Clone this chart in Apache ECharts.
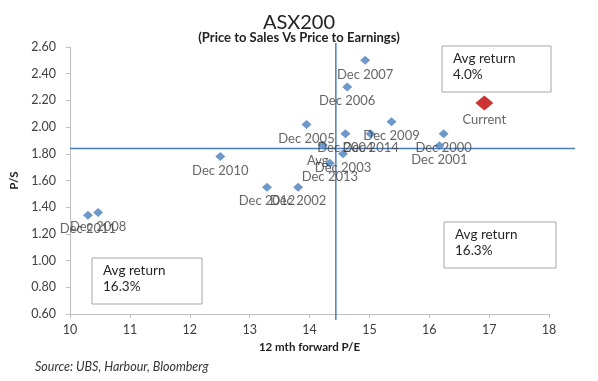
<!DOCTYPE html>
<html>
<head>
<meta charset="utf-8">
<script src="https://cdn.jsdelivr.net/npm/echarts@6/dist/echarts.min.js"></script>
<style>
html,body{margin:0;padding:0;background:#fff;}
#c{width:598px;height:381px;}
</style>
</head>
<body>
<div id="c"></div>
<script>
// ---- data ----
var names = ["Dec 2007","Dec 2006","Dec 2009","Dec 2005","Dec 2004","Dec 2014","Dec 2000","Dec 2001","Avg","Dec 2003","Dec 2013","Dec 2010","Dec 2012","Dec 2002","Dec 2011","Dec 2008"];
var pe    = [14.93, 14.63, 15.37, 13.95, 14.60, 15.02, 16.24, 16.17, 14.22, 14.56, 14.34, 12.51, 13.29, 13.81, 10.30, 10.47];
var ps    = [2.50,  2.30,  2.04,  2.02,  1.95,  1.95,  1.95,  1.86,  1.865, 1.80,  1.73,  1.78,  1.55,  1.55,  1.34,  1.36];
var currentName = "Current";
var currentPE = 16.92;
var currentPS = 2.18;
var avgPE = 14.44;   // vertical reference line
var avgPS = 1.84;    // horizontal reference line
var xTicks = [10, 18, 1];
var yTicks = [0.6, 2.6, 0.2];
var boxes = [
  {lines:["Avg return","4.0%"]},
  {lines:["Avg return","16.3%"]},
  {lines:["Avg return","16.3%"]}
];

var FONT = 'Lato, "Open Sans", sans-serif';
var chart = echarts.init(document.getElementById('c'), null, {renderer:'canvas'});

var pts = names.map(function(n,i){
  var d = {name:n, value:[pe[i], ps[i]]};
  if (n === 'Avg') d.label = {offset:[-5,2]};
  return d;
});

var option = {
  backgroundColor:'#fff',
  animation:false,
  textStyle:{fontFamily:FONT},
  title:[
    {text:'ASX200', left:'center', top:8, textStyle:{fontFamily:FONT, fontSize:20, fontWeight:'normal', color:'#222'}},
    {text:'(Price to Sales Vs Price to Earnings)', left:'center', top:26, textStyle:{fontFamily:FONT, fontSize:13, fontWeight:'bold', color:'#222'}}
  ],
  grid:{left:68, right:49, top:47, bottom:67, containLabel:false},
  xAxis:{
    type:'value', min:xTicks[0], max:xTicks[1], interval:xTicks[2],
    name:'12 mth forward P/E', nameLocation:'middle', nameGap:25,
    nameTextStyle:{fontFamily:FONT, fontSize:11.5, fontWeight:'bold', color:'#222'},
    axisLine:{show:true, lineStyle:{color:'#c0c0c0'}},
    axisTick:{show:true, length:4, lineStyle:{color:'#c0c0c0'}},
    axisLabel:{fontFamily:FONT, fontSize:12.5, color:'#404040', margin:9},
    splitLine:{show:false}
  },
  yAxis:{
    type:'value', min:yTicks[0], max:yTicks[1], interval:yTicks[2],
    name:'P/S', nameLocation:'middle', nameGap:50, nameRotate:90,
    nameTextStyle:{fontFamily:FONT, fontSize:11.5, fontWeight:'bold', color:'#222'},
    axisLine:{show:true, lineStyle:{color:'#c0c0c0'}},
    axisTick:{show:true, length:4, lineStyle:{color:'#c0c0c0'}},
    axisLabel:{fontFamily:FONT, fontSize:12.5, color:'#404040', margin:14,
      formatter:function(v){ return v.toFixed(2); }},
    splitLine:{show:false}
  },
  series:[
    {
      type:'scatter', symbol:'diamond', symbolSize:[10,9],
      itemStyle:{color:'#4a7ebb'},
      label:{show:true, position:'bottom', distance:3, formatter:'{b}',
        fontFamily:FONT, fontSize:13, color:'#404040'},
      data:pts, z:3
    },
    {
      type:'scatter', symbol:'diamond', symbolSize:[18,15],
      itemStyle:{color:'#c00000'},
      label:{show:true, position:'bottom', distance:3, formatter:'{b}',
        fontFamily:FONT, fontSize:13, color:'#404040'},
      data:[{name:currentName, value:[currentPE, currentPS]}], z:3
    }
  ]
};
chart.setOption(option);

// reference lines (extended slightly beyond plot as in the original), from the chart's own scales
var g = [];
var pL = chart.convertToPixel({gridIndex:0}, [xTicks[0], avgPS]);
var pR = chart.convertToPixel({gridIndex:0}, [xTicks[1], avgPS]);
var pT = chart.convertToPixel({gridIndex:0}, [avgPE, yTicks[1]]);
var pB = chart.convertToPixel({gridIndex:0}, [avgPE, yTicks[0]]);
g.push({type:'line', shape:{x1:pL[0], y1:pL[1], x2:pR[0]+26, y2:pR[1]}, style:{stroke:'#4a7ebb', lineWidth:1.5}, z:1});
g.push({type:'line', shape:{x1:pT[0], y1:pT[1]-4, x2:pB[0], y2:pB[1]+6}, style:{stroke:'#4a7ebb', lineWidth:1.5}, z:1});

// annotation boxes
var boxPos = [
  {x:442, y:46, w:109, h:46},
  {x:92, y:258, w:110, h:46},
  {x:444, y:222, w:112, h:46}
];
boxes.forEach(function(b,i){
  var p = boxPos[i];
  g.push({type:'rect', shape:{x:p.x, y:p.y, width:p.w, height:p.h}, style:{fill:'#fff', stroke:'#a6a6a6', lineWidth:1}, z:5});
  g.push({type:'text', x:p.x+11, y:p.y+5, style:{text:b.lines.join('\n'), font:'13.5px ' + FONT, fill:'#262626', lineHeight:15.5}, z:6});
});

g.push({type:'text', x:35, y:360, style:{text:'Source: UBS, Harbour, Bloomberg', font:'italic 12.5px ' + FONT, fill:'#333'}});

chart.setOption({graphic:g});
</script>
</body>
</html>
